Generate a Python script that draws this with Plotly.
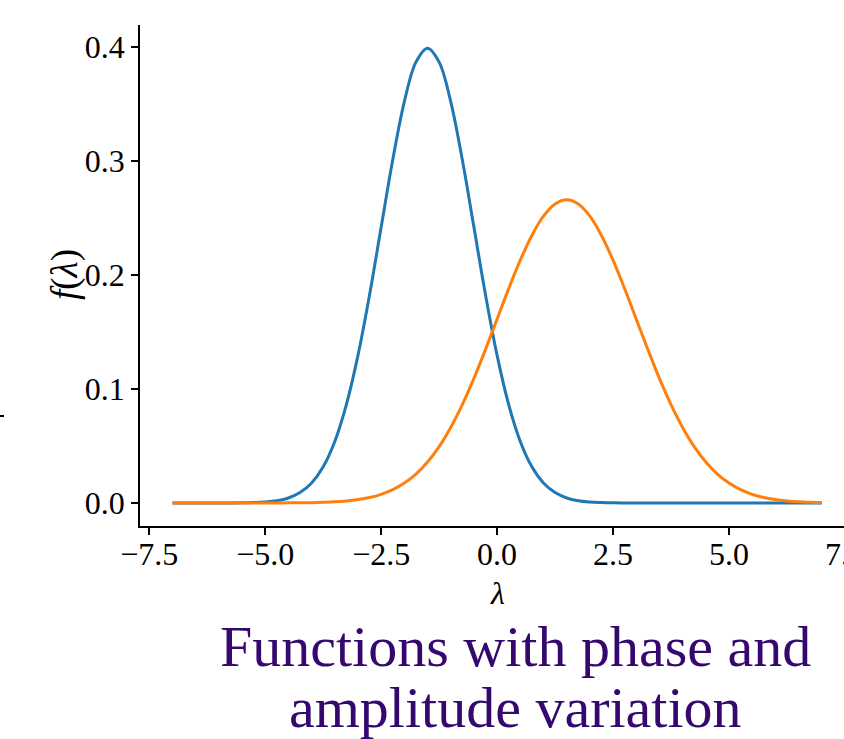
import plotly.graph_objects as go

# sample positions along lambda
lam = [-7.0, -6.75, -6.5, -6.25, -6.0, -5.75, -5.5, -5.25, -5.0, -4.75,
       -4.5, -4.25, -4.0, -3.75, -3.5, -3.25, -3.0, -2.75, -2.5, -2.25,
       -2.0, -1.75, -1.5, -1.25, -1.0, -0.75, -0.5, -0.25, 0.0, 0.25,
       0.5, 0.75, 1.0, 1.25, 1.5, 1.75, 2.0, 2.25, 2.5, 2.75,
       3.0, 3.25, 3.5, 3.75, 4.0, 4.25, 4.5, 4.75, 5.0, 5.25,
       5.5, 5.75, 6.0, 6.25, 6.5, 6.75, 7.0]

# narrow curve centred left of zero
f_blue = [0.0, 0.0, 0.0, 0.0, 0.0, 0.0, 0.0001, 0.0004, 0.0009, 0.0020,
          0.0044, 0.0091, 0.0175, 0.0317, 0.0540, 0.0863, 0.1295, 0.1826, 0.2420, 0.3011,
          0.3521, 0.3867, 0.3989, 0.3867, 0.3521, 0.3011, 0.2420, 0.1826, 0.1295, 0.0863,
          0.0540, 0.0317, 0.0175, 0.0091, 0.0044, 0.0020, 0.0009, 0.0004, 0.0001, 0.0,
          0.0, 0.0, 0.0, 0.0, 0.0, 0.0, 0.0, 0.0, 0.0, 0.0,
          0.0, 0.0, 0.0, 0.0, 0.0, 0.0, 0.0]

# wider, lower curve centred right of zero
f_orange = [0.0, 0.0, 0.0, 0.0, 0.0, 0.0, 0.0, 0.0, 0.0, 0.0,
            0.0001, 0.0002, 0.0003, 0.0006, 0.0010, 0.0018, 0.0030, 0.0048, 0.0076, 0.0117,
            0.0175, 0.0254, 0.0360, 0.0495, 0.0663, 0.0863, 0.1093, 0.1347, 0.1613, 0.1880,
            0.2130, 0.2347, 0.2516, 0.2623, 0.2660, 0.2623, 0.2516, 0.2347, 0.2130, 0.1880,
            0.1613, 0.1347, 0.1093, 0.0863, 0.0663, 0.0495, 0.0360, 0.0254, 0.0175, 0.0117,
            0.0076, 0.0048, 0.0030, 0.0018, 0.0010, 0.0006, 0.0003]

x_ticks = [-7.5, -5.0, -2.5, 0.0, 2.5, 5.0]
x_tick_text = ["\u22127.5", "\u22125.0", "\u22122.5", "0.0", "2.5", "5.0"]
x_edge_tick = 7.5
x_edge_text = "7.5"
y_ticks = [0.0, 0.1, 0.2, 0.3, 0.4]
y_tick_text = ["0.0", "0.1", "0.2", "0.3", "0.4"]

title_lines = ["Functions with phase and", "amplitude variation"]

SERIF = "Liberation Serif"
W, H = 844, 739
L, T, B = 140, 25, 213
X_RANGE = [-7.7, 7.48]

fig = go.Figure()
fig.add_trace(go.Scatter(x=lam, y=f_blue, mode="lines", line_shape="spline",
                         line=dict(color="#1f77b4", width=3)))
fig.add_trace(go.Scatter(x=lam, y=f_orange, mode="lines", line_shape="spline",
                         line=dict(color="#ff7f0e", width=3)))

axis_common = dict(showgrid=False, zeroline=False, showline=True, linecolor="black",
                   linewidth=1.8, ticks="outside", ticklen=7, tickwidth=1.6,
                   tickcolor="black", tickfont=dict(family=SERIF, size=32, color="black"),
                   tickmode="array")

fig.update_layout(
    width=W, height=H,
    margin=dict(l=L, r=0, t=T, b=B, pad=0),
    paper_bgcolor="white", plot_bgcolor="white",
    showlegend=False,
    xaxis=dict(range=X_RANGE, tickvals=x_ticks, ticktext=x_tick_text,
               ticklabelstandoff=-8, **axis_common),
    yaxis=dict(range=[-0.0202, 0.4193], tickvals=y_ticks, ticktext=y_tick_text,
               **axis_common),
)

ph = H - T - B
pw = W - L


def px_x(p):
    return (p - L) / pw


def px_y(p):
    return (H - B - p) / ph


# pixel position of the last tick, just beyond the visible axis range
x_edge_px = L + (x_edge_tick - X_RANGE[0]) / (X_RANGE[1] - X_RANGE[0]) * pw

# last x tick label sits at the page edge
fig.add_annotation(text=x_edge_text, xref="paper", yref="paper", x=px_x(x_edge_px), y=px_y(554),
                   showarrow=False, font=dict(family=SERIF, size=32, color="black"),
                   xanchor="center", yanchor="middle")

# axis labels
fig.add_annotation(text="<i>λ</i>", xref="paper", yref="paper", x=px_x(497), y=px_y(593),
                   showarrow=False, font=dict(family=SERIF, size=32, color="black"),
                   xanchor="center", yanchor="middle")
fig.add_annotation(text="<i>f</i>(<i>λ</i>)", xref="paper", yref="paper", x=px_x(65), y=px_y(275),
                   showarrow=False, textangle=-90,
                   font=dict(family=SERIF, size=37, color="black"),
                   xanchor="center", yanchor="middle")

# two-line caption below the axes
for line, yc in zip(title_lines, [646, 707]):
    fig.add_annotation(text=line, xref="paper", yref="paper", x=px_x(515), y=px_y(yc),
                       showarrow=False, font=dict(family=SERIF, size=58, color="#35086f"),
                       xanchor="center", yanchor="middle")

# short stray tick at the far left edge
fig.add_shape(type="line", xref="paper", yref="paper",
              x0=px_x(0), x1=px_x(4), y0=px_y(416), y1=px_y(416),
              line=dict(color="black", width=2))

fig.write_html("out.html")
